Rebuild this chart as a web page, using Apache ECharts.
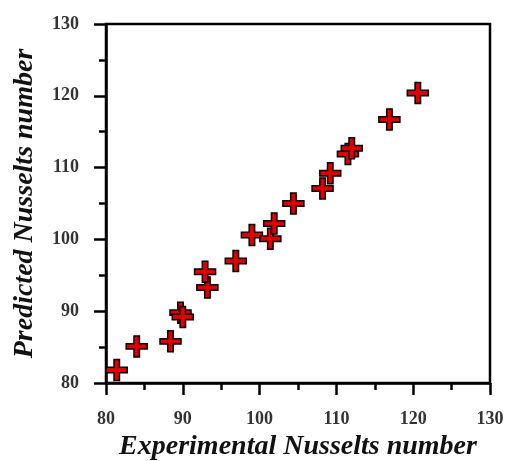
<!DOCTYPE html>
<html><head><meta charset="utf-8">
<script src="https://cdn.jsdelivr.net/npm/echarts@6/dist/echarts.min.js"></script>
<style>html,body{margin:0;padding:0;background:#fff}#c{width:509px;height:461px}</style>
</head><body><div id="c"></div>
<script>
const experimental = [81.4, 84.0, 88.4, 89.7, 90.0, 93.2, 92.9, 96.9, 99.0, 101.4, 101.9, 104.4, 108.2, 109.2, 111.5, 112.0, 116.9, 120.6];
const predicted    = [81.8, 85.1, 85.8, 89.8, 89.2, 93.3, 95.5, 97.0, 100.6, 100.1, 102.2, 105.0, 107.1, 109.2, 111.9, 112.7, 116.7, 120.4];
const xTitle = 'Experimental Nusselts number';
const yTitle = 'Predicted Nusselts number';

const pts = experimental.map((v, i) => [v, predicted[i]]);
const plus = 'path://M3.7,0 H6.3 V3.7 H10 V6.3 H6.3 V10 H3.7 V6.3 H0 V3.7 H3.7 Z';
const labelStyle = {fontFamily: 'Liberation Serif', fontWeight: 'bold', fontSize: 18, color: '#333'};
const axisCommon = {
  min: 80, max: 130, interval: 10,
  axisLine: {show: true, lineStyle: {color: '#000', width: 2.5}},
  axisTick: {show: true, inside: false, length: 12, lineStyle: {color: '#000', width: 2.5}},
  minorTick: {show: true, splitNumber: 2, length: 7, lineStyle: {color: '#000', width: 2.5}},
  splitLine: {show: false},
  nameLocation: 'middle',
  nameTextStyle: {fontFamily: 'Liberation Serif', fontWeight: 'bold', fontStyle: 'italic', fontSize: 28, color: '#111'}
};
const chart = echarts.init(document.getElementById('c'), null, {renderer: 'canvas'});
chart.setOption({
  animation: false,
  grid: {left: 106, right: 19, top: 24, bottom: 78, containLabel: false, outerBoundsMode: 'none',
         show: true, borderColor: '#000', borderWidth: 2.5},
  xAxis: Object.assign({}, axisCommon, {
    type: 'value', name: xTitle, nameGap: 48,
    axisLabel: Object.assign({margin: 27}, labelStyle)
  }),
  yAxis: Object.assign({}, axisCommon, {
    type: 'value', name: yTitle, nameGap: 67,
    axisLabel: Object.assign({margin: 27}, labelStyle)
  }),
  series: [{
    type: 'scatter', data: pts, symbol: plus, symbolSize: 21,
    itemStyle: {color: '#e00000', borderColor: '#000', borderWidth: 1.5, opacity: 1}
  }]
});
</script></body></html>
